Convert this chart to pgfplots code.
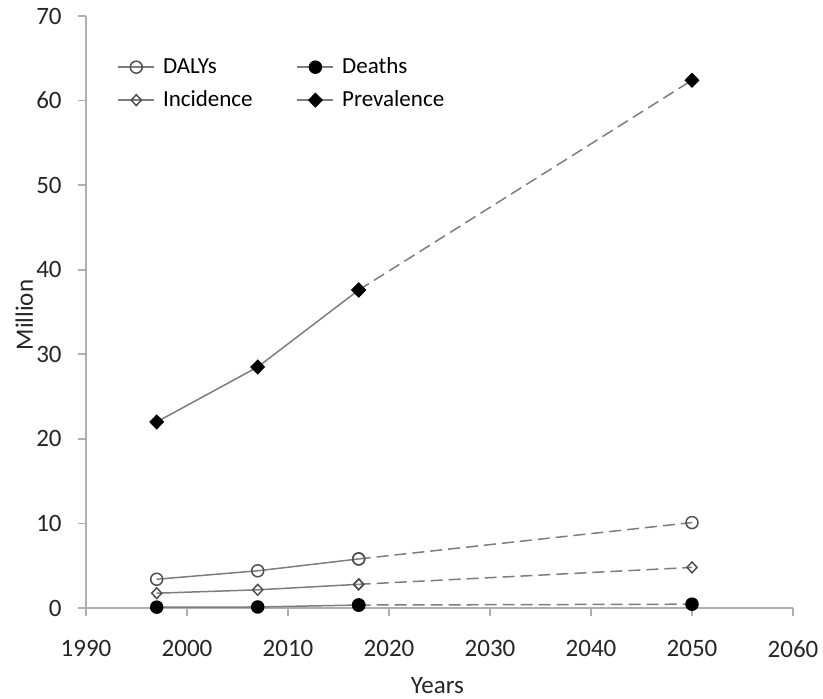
\documentclass[border=0pt]{standalone}
\usepackage{pgfplots}
\pgfplotsset{compat=1.18}
\usepackage{fontspec}
\setmainfont{Carlito}
\definecolor{axgray}{RGB}{175,175,175}
\definecolor{lngray}{RGB}{125,125,125}
\definecolor{mkgray}{RGB}{80,80,80}
\begin{document}
\begin{tikzpicture}
\begin{axis}[
  scale only axis,
  width=353.5pt, height=296pt,
  xmin=1990, xmax=2060, ymin=0, ymax=70,
  xtick={1990,2000,...,2060}, ytick={0,10,...,70},
  axis x line*=bottom, axis y line*=left,
  axis line style={axgray, line width=0.8pt},
  tick style={axgray, line width=0.8pt},
  tick align=outside, major tick length=4pt,
  /pgf/number format/assume math mode=true,
  /pgf/number format/set thousands separator={},
  tick label style={font=\fontsize{12.5}{14}\selectfont, text=black!85, inner sep=0pt},
  xticklabel shift=12pt,
  yticklabel shift=8pt,
  xlabel={Years}, ylabel={Million},
  xlabel style={at={(axis description cs:0.497,0)}, anchor=north, yshift=-34.5pt, inner sep=0pt,
    font=\fontsize{12.5}{14}\selectfont, text=black!85},
  ylabel style={at={(axis description cs:-0.1004,0.495)}, anchor=north, inner sep=0pt,
    font=\fontsize{12.5}{14}\selectfont, text=black!85},
  legend columns=2,
  legend image code/.code={\draw[mark repeat=2,mark phase=2] plot coordinates {(0pt,0pt) (9pt,0pt) (18pt,0pt)};},
  legend style={draw=none, fill=none, at={(0.044,0.937)}, anchor=north west,
    font=\fontsize{11.5}{13}\selectfont, row sep=3pt, inner sep=0pt,
    /tikz/every odd column/.append style={column sep=2pt},
    /tikz/every even column/.append style={column sep=20pt}},
  legend cell align=left,
  every axis plot/.append style={line width=0.75pt},
]
% DALYs
\addplot[lngray, mark=o, mark size=3pt, mark options={solid, fill=white, draw=mkgray}] coordinates {(1997,3.4) (2007,4.4) (2017,5.8)};
\addlegendentry{DALYs}
% Deaths
\addplot[lngray, mark=*, mark size=3pt, mark options={solid, fill=black, draw=black}] coordinates {(1997,0.1) (2007,0.12) (2017,0.35)};
\addlegendentry{Deaths}
% Incidence
\addplot[lngray, mark=diamond, mark size=2.7pt, mark options={solid, fill=white, draw=mkgray, xscale=1.25}] coordinates {(1997,1.75) (2007,2.15) (2017,2.8)};
\addlegendentry{Incidence}
% Prevalence
\addplot[lngray, mark=diamond*, mark size=3.3pt, mark options={solid, fill=black, draw=black, xscale=1.3}] coordinates {(1997,22.0) (2007,28.5) (2017,37.6)};
\addlegendentry{Prevalence}
% projections
\addplot[forget plot, lngray, dash pattern=on 6pt off 3pt, mark=o, mark size=3pt, mark options={solid, fill=white, draw=mkgray}] coordinates {(2017,5.8) (2050,10.1)};
\addplot[forget plot, lngray, dash pattern=on 6pt off 3pt, mark=diamond, mark size=2.7pt, mark options={solid, fill=white, draw=mkgray, xscale=1.25}] coordinates {(2017,2.8) (2050,4.8)};
\addplot[forget plot, lngray, dash pattern=on 6pt off 3pt, mark=*, mark size=3pt, mark options={solid, fill=black, draw=black}] coordinates {(2017,0.35) (2050,0.45)};
\addplot[forget plot, lngray, dash pattern=on 6pt off 3pt, mark=diamond*, mark size=3.3pt, mark options={solid, fill=black, draw=black, xscale=1.3}] coordinates {(2017,37.6) (2050,62.4)};
\end{axis}
\pgfresetboundingbox
\path (-43pt,-45.5pt) rectangle (368.5pt,304pt);
\end{tikzpicture}
\end{document}
